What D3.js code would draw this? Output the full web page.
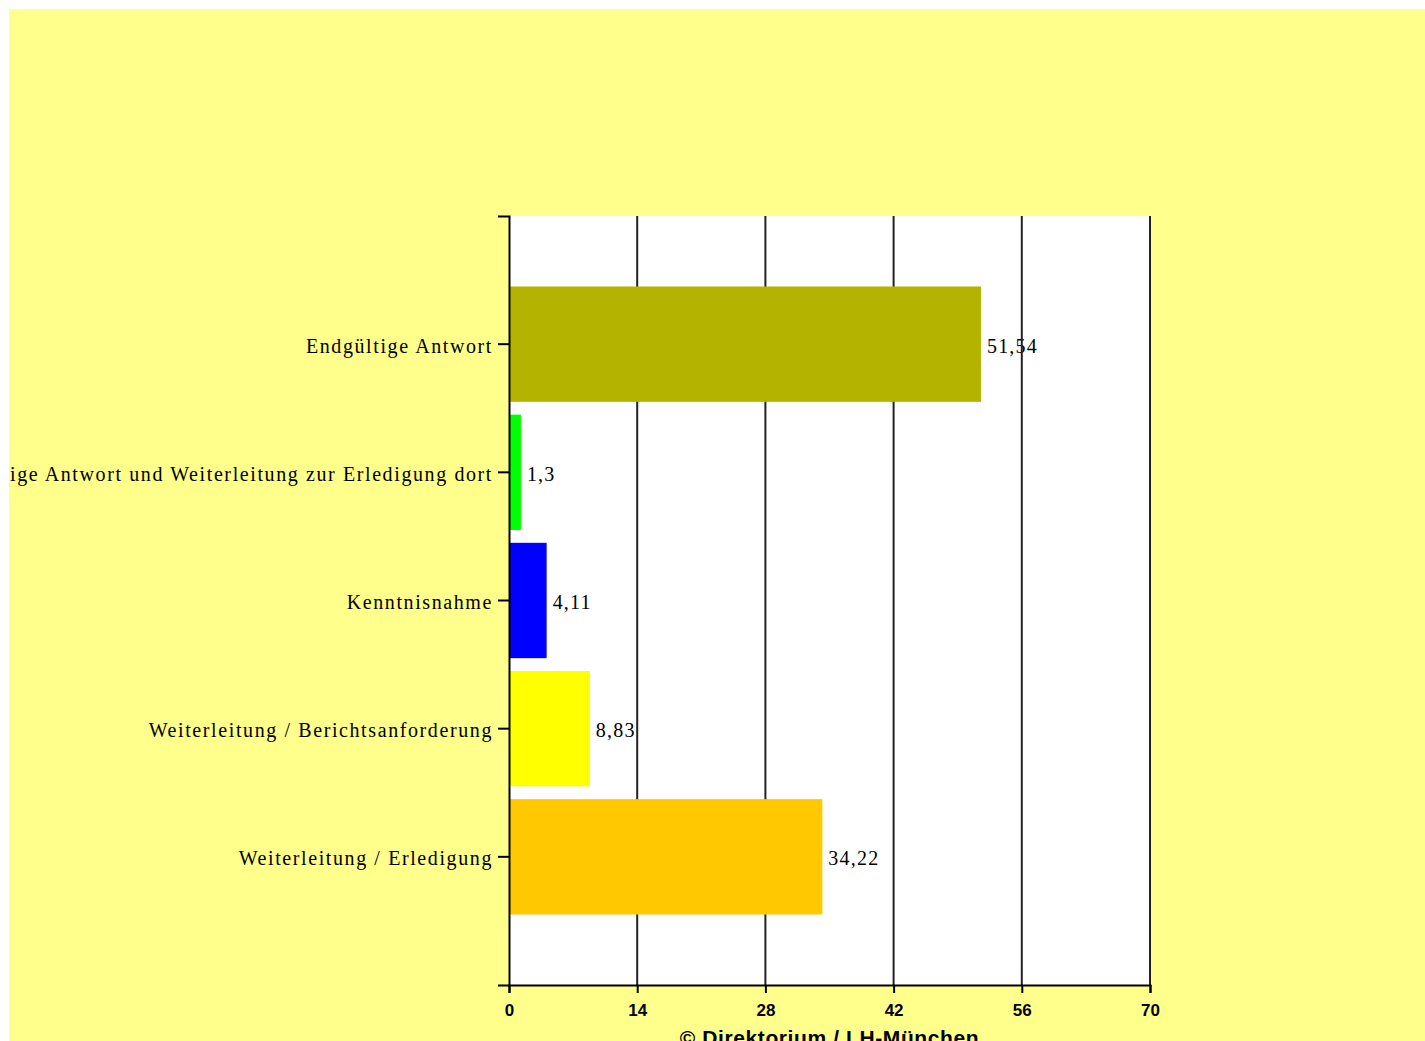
<!DOCTYPE html>
<html><head><meta charset="utf-8">
<script src="https://cdn.jsdelivr.net/npm/d3@7"></script>
<style>body{margin:0;background:#fff;}svg{display:block;}</style>
</head><body>
<script>
const categories = [
  "Endgültige Antwort",
  "Endgültige Antwort und Weiterleitung zur Erledigung dort",
  "Kenntnisnahme",
  "Weiterleitung / Berichtsanforderung",
  "Weiterleitung / Erledigung"
];
const values = [51.54, 1.3, 4.11, 8.83, 34.22];
const valueLabels = ["51,54", "1,3", "4,11", "8,83", "34,22"];
const colors = ["#B3B300", "#00FF00", "#0000FF", "#FFFF00", "#FFC800"];
const xTicks = [0, 14, 28, 42, 56, 70];
const footer = "© Direktorium / LH-München";

const W = 1425, H = 1041;
const svg = d3.select("body").append("svg").attr("width", W).attr("height", H);
svg.append("defs").append("clipPath").attr("id", "bgclip")
  .append("rect").attr("x", 9).attr("y", 9).attr("width", W - 9).attr("height", H - 9);
svg.append("rect").attr("x", 9).attr("y", 9).attr("width", W - 9).attr("height", H - 9).attr("fill", "#FFFF8C");

const L = 509, R = 1150, T = 216, B = 985;
const x = d3.scaleLinear().domain([0, 70]).range([L, R]);
const y = d3.scaleBand().domain(categories).range([T, B]).paddingInner(0.1).paddingOuter(0.55);
const serif = "'Liberation Serif', 'Times New Roman', serif";
const sans = "'Liberation Sans', Arial, sans-serif";

const g = svg.append("g").attr("clip-path", "url(#bgclip)");
g.append("rect").attr("x", L).attr("y", T).attr("width", R - L).attr("height", B - T).attr("fill", "#fff");

// value labels
g.append("g").selectAll("text").data(values).join("text")
  .attr("x", d => x(d) + 6)
  .attr("y", (d, i) => y(categories[i]) + y.bandwidth() / 2)
  .attr("dy", "0.42em")
  .attr("font-family", serif).attr("letter-spacing", 1.2)
  .attr("font-size", 20).attr("fill", "#000")
  .text((d, i) => valueLabels[i]);

// gridlines
g.append("g").selectAll("line").data(xTicks.slice(1)).join("line")
  .attr("x1", d => x(d)).attr("x2", d => x(d)).attr("y1", T).attr("y2", B)
  .attr("stroke", "#222").attr("stroke-width", 2);

// bars
g.append("g").selectAll("rect").data(values).join("rect")
  .attr("x", x(0))
  .attr("y", (d, i) => y(categories[i]))
  .attr("width", d => x(d) - x(0))
  .attr("height", y.bandwidth())
  .attr("fill", (d, i) => colors[i]);

// x axis
const xAxis = g.append("g").attr("transform", `translate(0,${B})`)
  .call(d3.axisBottom(x).tickValues(xTicks).tickSize(8).tickSizeOuter(8).tickPadding(11).tickFormat(d3.format("d")));
xAxis.selectAll("path,line").attr("stroke", "#000").attr("stroke-width", 2);
xAxis.selectAll("text").attr("font-family", sans)
  .attr("font-weight", "bold").attr("font-size", 17).attr("fill", "#000");

// y axis
const yAxis = g.append("g").attr("transform", `translate(${L},0)`)
  .call(d3.axisLeft(y).tickSize(11).tickSizeOuter(11).tickPadding(5));
yAxis.selectAll("path,line").attr("stroke", "#000").attr("stroke-width", 2);
yAxis.selectAll("text").attr("font-family", serif).attr("letter-spacing", 1.6)
  .attr("dy", "0.42em")
  .attr("font-size", 20).attr("fill", "#000");

// footer
g.append("text").attr("x", (L + R) / 2).attr("y", 1045).attr("text-anchor", "middle")
  .attr("font-family", sans).attr("font-weight", "bold").attr("letter-spacing", 0.6)
  .attr("font-size", 21).attr("fill", "#000").text(footer);
</script>
</body></html>
